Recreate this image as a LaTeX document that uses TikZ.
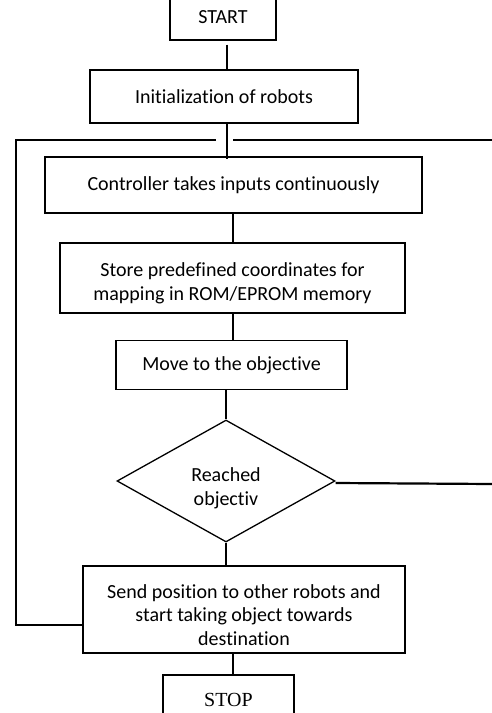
\documentclass[tikz,border=0pt]{standalone}
\usepackage{fontspec}
\setmainfont{Carlito}[Ligatures=NoCommon]
\newfontfamily\tnr{Liberation Serif}
\usetikzlibrary{shapes.geometric}
\begin{document}
\begin{tikzpicture}[x=1pt,y=-1pt,
  font=\fontsize{20}{23.3}\selectfont,
  box/.style={draw=black,line width=1.3pt,inner sep=0pt,align=center},
  thinline/.style={line width=1.4pt},
  thickline/.style={line width=2.2pt}]
\useasboundingbox (0,0) rectangle (492,713);
\clip (0,0) rectangle (492,713);
% nodes
\node[box,minimum width=106pt,minimum height=46pt] (start) at (223,17) {START};
\node[box,minimum width=268pt,minimum height=53pt] (init) at (224,96.5) {Initialization of robots};
\node[box,minimum width=377pt,minimum height=56pt] (ctrl) at (233.5,185) {Controller takes inputs continuously};
\node[box,minimum width=345pt,minimum height=70pt,text height=44pt,text depth=0pt] (store) at (232.5,278) {Store predefined coordinates for\\mapping in ROM/EPROM memory};
\node[box,minimum width=231pt,minimum height=49pt] (move) at (231.5,365) {Move to the objective};
\node[box,shape=diamond,aspect=1.79,minimum width=218pt,minimum height=122pt,text height=48pt,text depth=0pt] (dia) at (226,481) {Reached\\objectiv};
\node[box,minimum width=322pt,minimum height=87pt,text height=71pt,text depth=0pt] (send) at (244,609.5) {Send position to other robots and\\start taking object towards\\destination};
\node[box,minimum width=131pt,minimum height=50pt,font=\tnr\fontsize{20}{23}\selectfont] (stop) at (228.5,700) {STOP};
% helper coordinates
\coordinate (xa) at (227,0);
\coordinate (xb) at (233,0);
\coordinate (lb) at (16,625);
\coordinate (lt) at (16,140);
\coordinate (gl) at (216,140);
\coordinate (gr) at (233,140);
\coordinate (re) at (493,140);
\coordinate (dr) at (493,484);
% connectors
\draw[thinline,shorten <=4pt] (start.south -| xa) -- (init.north -| xa);
\draw[thinline] (init.south -| xa) -- ([yshift=-3pt]ctrl.north -| xa);
\draw[thickline] (ctrl.south -| xb) -- (store.north -| xb);
\draw[thinline] (store.south -| xb) -- (move.north -| xb);
\draw[thinline] (move.south -| dia.north) -- (dia.north);
\draw[thinline] (dia.south) -- (send.north -| dia.south);
\draw[thickline] (send.south -| xb) -- (stop.north -| xb);
\draw[thickline] ([yshift=-2pt]dia.east) -- (dr);
\draw[thinline] (send.west |- lb) -- (lb) -- (lt) -- (gl);
\draw[thinline] (gr) -- (re);
\end{tikzpicture}
\end{document}
